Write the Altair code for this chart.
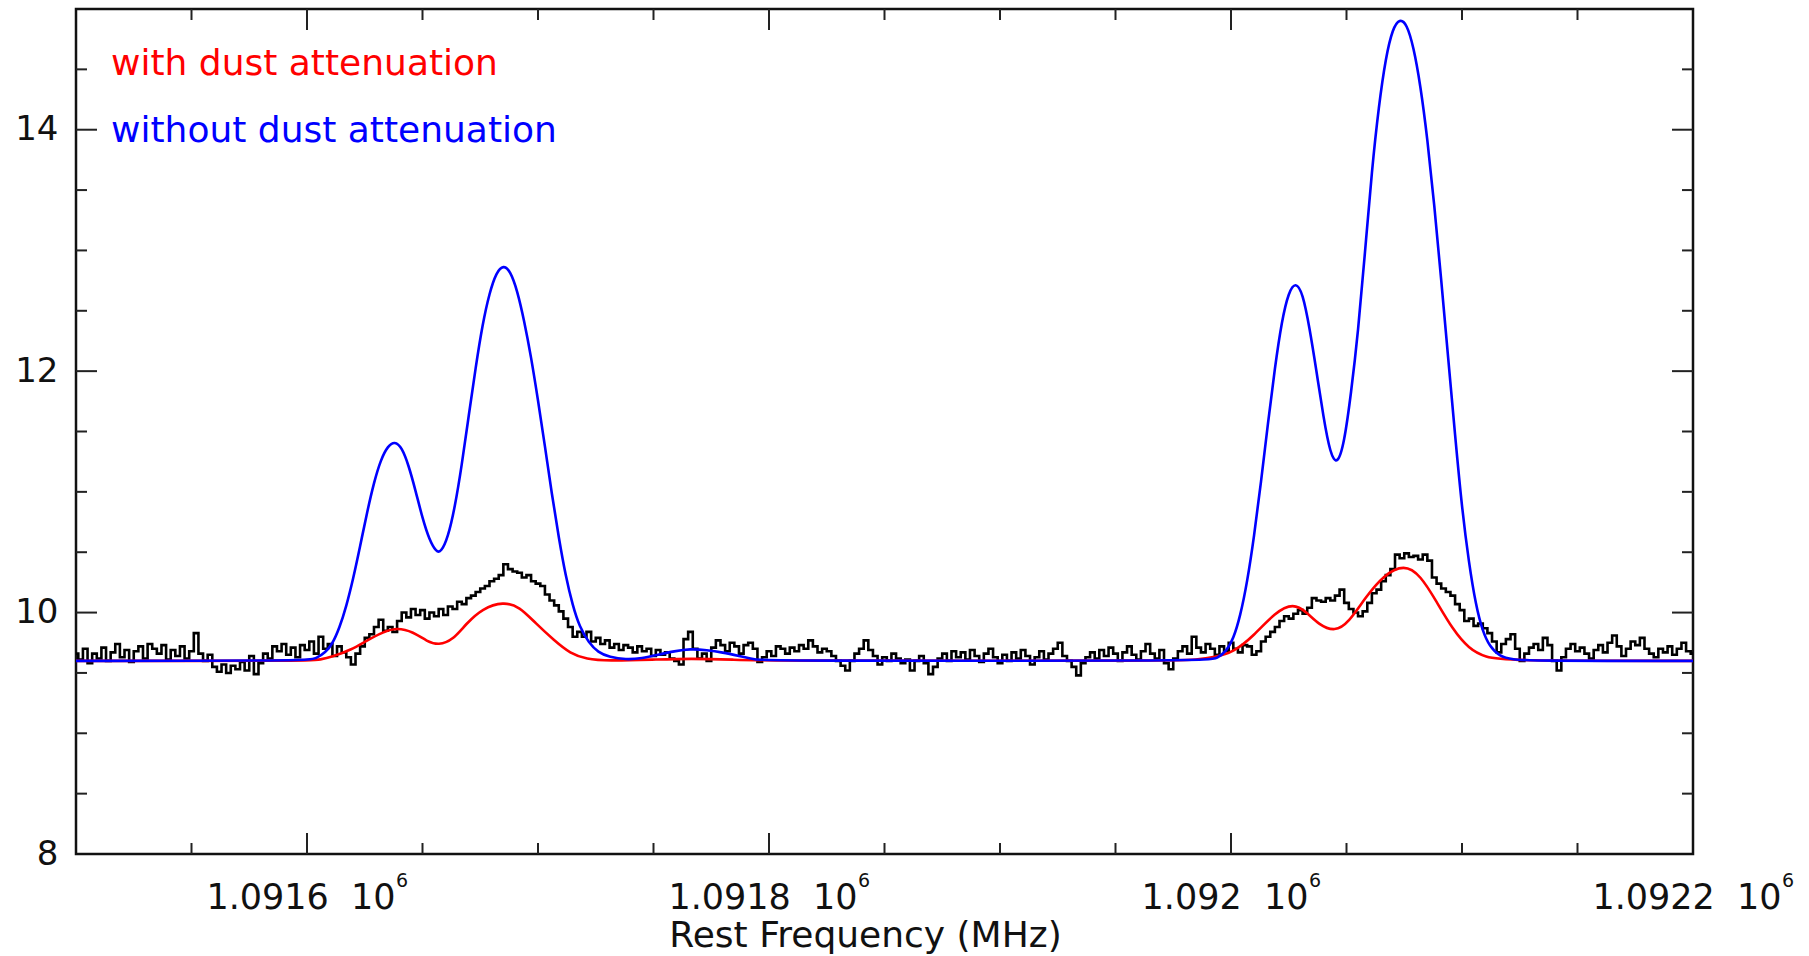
import altair as alt
import pandas as pd

# ---------------- data ----------------
# observed spectrum: channels every 2 MHz starting at 1091500 MHz
OBS_START = 1091500
OBS_STEP = 2
obs_flux = [
    9.66, 9.61, 9.70, 9.58, 9.66, 9.62, 9.71, 9.60, 9.67, 9.74,
    9.63, 9.69, 9.59, 9.68, 9.72, 9.62, 9.74, 9.70, 9.66, 9.73,
    9.61, 9.69, 9.64, 9.72, 9.62, 9.68, 9.83, 9.66, 9.60, 9.65,
    9.55, 9.51, 9.57, 9.50, 9.56, 9.53, 9.59, 9.52, 9.64, 9.49,
    9.58, 9.66, 9.62, 9.72, 9.68, 9.74, 9.65, 9.71, 9.63, 9.73,
    9.69, 9.76, 9.66, 9.80, 9.70, 9.74, 9.64, 9.72, 9.67, 9.63,
    9.57, 9.66, 9.72, 9.79, 9.82, 9.88, 9.94, 9.85, 9.88, 9.84,
    9.93, 10.00, 9.96, 10.03, 9.98, 10.02, 9.95, 10.00, 9.97, 10.03,
    9.98, 10.05, 10.03, 10.09, 10.07, 10.12, 10.14, 10.17, 10.20, 10.22,
    10.26, 10.28, 10.31, 10.40, 10.36, 10.34, 10.33, 10.29, 10.31, 10.26,
    10.24, 10.22, 10.15, 10.10, 10.06, 10.01, 9.95, 9.88, 9.80, 9.84,
    9.80, 9.84, 9.76, 9.79, 9.74, 9.77, 9.71, 9.74, 9.69, 9.73,
    9.71, 9.67, 9.72, 9.68, 9.70, 9.64, 9.69, 9.65, 9.67, 9.62,
    9.60, 9.57, 9.78, 9.84, 9.70, 9.62, 9.66, 9.60, 9.71, 9.77,
    9.73, 9.68, 9.75, 9.72, 9.66, 9.73, 9.75, 9.70, 9.59, 9.63,
    9.68, 9.64, 9.72, 9.70, 9.66, 9.71, 9.68, 9.73, 9.70, 9.77,
    9.72, 9.67, 9.70, 9.68, 9.64, 9.60, 9.56, 9.52, 9.60, 9.66,
    9.70, 9.77, 9.69, 9.64, 9.57, 9.63, 9.60, 9.66, 9.62, 9.58,
    9.61, 9.52, 9.60, 9.64, 9.58, 9.49, 9.55, 9.62, 9.66, 9.60,
    9.68, 9.63, 9.67, 9.61, 9.69, 9.64, 9.59, 9.66, 9.70, 9.63,
    9.58, 9.65, 9.60, 9.67, 9.62, 9.69, 9.64, 9.57, 9.63, 9.68,
    9.61, 9.66, 9.70, 9.75, 9.64, 9.60, 9.55, 9.48, 9.58, 9.63,
    9.67, 9.62, 9.69, 9.64, 9.71, 9.66, 9.60, 9.67, 9.72, 9.65,
    9.61, 9.68, 9.74, 9.66, 9.62, 9.69, 9.58, 9.53, 9.62, 9.68,
    9.72, 9.66, 9.80, 9.71, 9.67, 9.74, 9.70, 9.65, 9.72, 9.68,
    9.75, 9.70, 9.67, 9.73, 9.72, 9.65, 9.68, 9.76, 9.80, 9.84,
    9.88, 9.93, 9.97, 9.95, 9.99, 10.02, 9.99, 10.04, 10.12, 10.10,
    10.09, 10.12, 10.10, 10.14, 10.19, 10.08, 10.03, 10.00, 9.97, 10.01,
    10.08, 10.16, 10.19, 10.26, 10.31, 10.36, 10.48, 10.45, 10.49, 10.46,
    10.47, 10.44, 10.48, 10.43, 10.29, 10.24, 10.20, 10.17, 10.14, 10.07,
    10.02, 9.93, 9.95, 9.89, 9.91, 9.87, 9.83, 9.76, 9.67, 9.74,
    9.78, 9.82, 9.70, 9.60, 9.66, 9.71, 9.74, 9.69, 9.79, 9.73,
    9.60, 9.52, 9.63, 9.70, 9.74, 9.68, 9.71, 9.66, 9.62, 9.69,
    9.73, 9.67, 9.75, 9.81, 9.72, 9.64, 9.70, 9.76, 9.73, 9.79,
    9.70, 9.66, 9.63, 9.70, 9.67, 9.72, 9.65, 9.70, 9.75, 9.68, 9.66,
]
obs_freq = [OBS_START + OBS_STEP * i for i in range(len(obs_flux))]

# model without dust attenuation (blue)
blue_freq = [
    1091500, 1091600, 1091604, 1091608, 1091611, 1091614, 1091617, 1091620,
    1091623, 1091626, 1091629, 1091632, 1091635, 1091638, 1091641, 1091644,
    1091647, 1091650, 1091653, 1091656, 1091658, 1091661, 1091664, 1091667,
    1091670, 1091673, 1091676, 1091679, 1091682, 1091685, 1091688, 1091691,
    1091694, 1091697, 1091700, 1091703, 1091706, 1091709, 1091712, 1091715,
    1091718, 1091722, 1091726, 1091731, 1091738, 1091745, 1091752, 1091759,
    1091766, 1091773, 1091780, 1091787, 1091794, 1091800, 1091990, 1091994,
    1091998, 1092001, 1092004, 1092007, 1092010, 1092013, 1092016, 1092019,
    1092022, 1092025, 1092028, 1092031, 1092034, 1092037, 1092040, 1092043,
    1092046, 1092049, 1092052, 1092055, 1092058, 1092061, 1092064, 1092067,
    1092070, 1092073, 1092076, 1092079, 1092082, 1092085, 1092088, 1092091,
    1092094, 1092097, 1092100, 1092103, 1092106, 1092109, 1092112, 1092116,
    1092122, 1092130, 1092200,
]
blue_flux = [
    9.60, 9.60, 9.62, 9.67, 9.74, 9.87, 10.05, 10.28,
    10.55, 10.83, 11.08, 11.27, 11.38, 11.42, 11.37, 11.22,
    11.01, 10.78, 10.60, 10.50, 10.50, 10.62, 10.87, 11.22,
    11.63, 12.03, 12.39, 12.65, 12.82, 12.88, 12.83, 12.67,
    12.42, 12.12, 11.76, 11.38, 10.98, 10.62, 10.30, 10.06,
    9.88, 9.75, 9.67, 9.63, 9.61, 9.62, 9.65, 9.68,
    9.70, 9.69, 9.67, 9.64, 9.61, 9.60, 9.60, 9.62,
    9.68, 9.78, 9.97, 10.25, 10.63, 11.08, 11.57, 12.03,
    12.42, 12.66, 12.74, 12.65, 12.36, 12.00, 11.62, 11.31,
    11.22, 11.40, 11.82, 12.32, 12.98, 13.67, 14.20, 14.60,
    14.84, 14.92, 14.88, 14.69, 14.37, 13.93, 13.38, 12.76,
    12.11, 11.47, 10.86, 10.41, 10.06, 9.84, 9.72, 9.64,
    9.61, 9.60, 9.60,
]

# model with dust attenuation (red)
red_freq = [
    1091500, 1091600, 1091606, 1091611, 1091619, 1091626, 1091633, 1091639,
    1091646, 1091652, 1091657, 1091663, 1091669, 1091676, 1091685, 1091692,
    1091699, 1091707, 1091714, 1091721, 1091730, 1091750, 1091766, 1091785,
    1091800, 1091975, 1091985, 1091993, 1092001, 1092010, 1092019, 1092027,
    1092033, 1092038, 1092045, 1092051, 1092058, 1092066, 1092075, 1092082,
    1092089, 1092096, 1092103, 1092110, 1092120, 1092200,
]
red_flux = [
    9.60, 9.60, 9.61, 9.635, 9.69, 9.77, 9.84, 9.875,
    9.84, 9.76, 9.73, 9.77, 9.91, 10.035, 10.09, 10.05,
    9.91, 9.77, 9.66, 9.615, 9.60, 9.61, 9.62, 9.61,
    9.60, 9.60, 9.61, 9.63, 9.67, 9.81, 10.00, 10.08,
    10.00, 9.90, 9.84, 9.92, 10.12, 10.31, 10.40, 10.31,
    10.09, 9.86, 9.70, 9.63, 9.60, 9.60,
]
assert len(blue_freq) == len(blue_flux) and len(red_freq) == len(red_flux)

# axis ticks
x_label_ticks = [1091600, 1091800, 1092000, 1092200]
x_major_ticks = [1091600, 1091800, 1092000]
x_minor_ticks = [1091550, 1091650, 1091700, 1091750, 1091850, 1091900,
                 1091950, 1092050, 1092100, 1092150]
y_label_ticks = [8, 10, 12, 14]
y_major_ticks = [10, 12, 14]
y_minor_ticks = [8.5, 9, 9.5, 10.5, 11, 11.5, 12.5, 13, 13.5, 14.5]

legend_labels = ["with dust attenuation", "without dust attenuation"]
legend_colors = ["#ff0000", "#0000ff"]

X_DOMAIN = [1091500, 1092200]
Y_DOMAIN = [8, 15]

# ---------------- chart ----------------
W, H = 1617, 845
MAJ, MIN = 21, 11
LABEL_FS = 35
DIGIT_W = 0.636 * LABEL_FS       # DejaVu Sans digit advance
DOT_W = 0.318 * LABEL_FS
SUP_SHIFT = 6.5                   # half of the exponent's width + gap

xs = alt.Scale(domain=X_DOMAIN, nice=False, zero=False)
ys = alt.Scale(domain=Y_DOMAIN, nice=False, zero=False)

x_axis = alt.Axis(
    values=x_label_ticks, ticks=False, tickSize=0, domain=False, grid=False,
    labelExpr="format(datum.value / 1000000, '.5~f') + '\u00a0\u00a010'",
    labelFont="DejaVu Sans", labelFontSize=LABEL_FS, labelColor="#111111",
    labelBaseline="alphabetic", labelPadding=54, labelFlush=False,
    labelOffset=-SUP_SHIFT, labelOverlap=False, labelBound=False,
    labelLimit=600,
    title="Rest Frequency (MHz)", titleFont="DejaVu Sans", titleFontSize=36,
    titleFontWeight="normal", titleColor="#111111",
    titleX=789, titleY=92, titleAlign="center", titleBaseline="alphabetic",
)
y_axis = alt.Axis(
    values=y_label_ticks, ticks=False, tickSize=0, domain=False, grid=False,
    labelFont="DejaVu Sans", labelFontSize=34, labelColor="#111111",
    labelBaseline="middle", labelPadding=18, labelFlush=False,
    labelOverlap=False, labelLimit=600, title=None,
)


def X(field="freq"):
    return alt.X(f"{field}:Q", scale=xs, axis=x_axis)


def Y():
    return alt.Y("flux:Q", scale=ys, axis=y_axis)


obs_df = pd.DataFrame({"freq": obs_freq, "flux": obs_flux})
blue_df = pd.DataFrame({"freq": blue_freq, "flux": blue_flux})
red_df = pd.DataFrame({"freq": red_freq, "flux": red_flux})

obs_line = alt.Chart(obs_df).mark_line(
    interpolate="step", color="#000000", strokeWidth=2.6, clip=True
).encode(x=X(), y=Y())
red_line = alt.Chart(red_df).mark_line(
    interpolate="basis", color="#ff0000", strokeWidth=2.6, clip=True
).encode(x=X(), y=Y())
blue_line = alt.Chart(blue_df).mark_line(
    interpolate="basis", color="#0000ff", strokeWidth=2.6, clip=True
).encode(x=X(), y=Y())

tick_layers = []
for vals, ln in [(x_major_ticks, MAJ), (x_minor_ticks, MIN)]:
    d = pd.DataFrame({"freq": vals})
    tick_layers.append(alt.Chart(d).mark_rule(color="#222222", strokeWidth=2).encode(
        x=X(), y=alt.value(H), y2=alt.value(H - ln)))
    tick_layers.append(alt.Chart(d).mark_rule(color="#222222", strokeWidth=2).encode(
        x=X(), y=alt.value(0), y2=alt.value(ln)))
for vals, ln in [(y_major_ticks, MAJ), (y_minor_ticks, MIN)]:
    d = pd.DataFrame({"flux": vals})
    tick_layers.append(alt.Chart(d).mark_rule(color="#222222", strokeWidth=2).encode(
        y=Y(), x=alt.value(0), x2=alt.value(ln)))
    tick_layers.append(alt.Chart(d).mark_rule(color="#222222", strokeWidth=2).encode(
        y=Y(), x=alt.value(W), x2=alt.value(W - ln)))

# exponent "6" of each x tick label, placed just right of the label's "10"
px_per_mhz = W / (X_DOMAIN[1] - X_DOMAIN[0])
sup_expr = (
    f"datum.freq + (((length(format(datum.freq / 1000000, '.5~f')) + 1) * {DIGIT_W}"
    f" + {DOT_W} + 2 * {DOT_W}) / 2 - {SUP_SHIFT} + 1) / {px_per_mhz}"
)
sup_layer = alt.Chart(pd.DataFrame({"freq": x_label_ticks})).transform_calculate(
    supx=sup_expr
).mark_text(
    align="left", baseline="alphabetic", font="DejaVu Sans", fontSize=19,
    color="#111111"
).encode(x=X("supx"), y=alt.value(878), text=alt.value("6"))

legend_layers = []
for i, (lab, col) in enumerate(zip(legend_labels, legend_colors)):
    d = pd.DataFrame({"label": [lab]})
    legend_layers.append(alt.Chart(d).mark_text(
        align="left", baseline="alphabetic", font="DejaVu Sans", fontSize=36,
        color=col
    ).encode(x=alt.value(35), y=alt.value(66 + 67 * i), text="label:N"))

chart = alt.layer(
    obs_line, red_line, blue_line, *tick_layers, sup_layer, *legend_layers
).properties(
    width=W, height=H,
    autosize=alt.AutoSizeParams(type="none"),
    padding={"left": 76, "top": 9, "right": 116, "bottom": 102},
    background="white",
).configure_view(stroke="#111111", strokeWidth=2.5)

chart.save("out.html", embed_options={"renderer": "svg", "actions": False})
